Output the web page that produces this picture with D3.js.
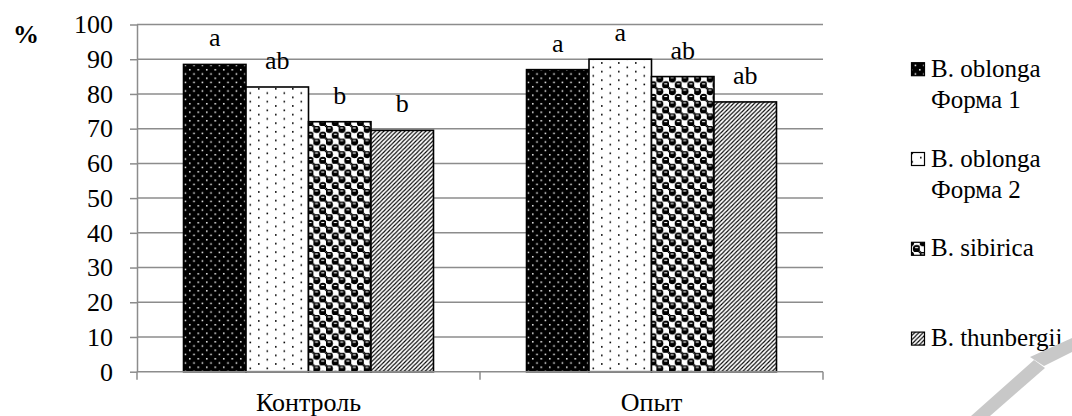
<!DOCTYPE html>
<html><head><meta charset="utf-8">
<script src="https://cdn.jsdelivr.net/npm/d3@7/dist/d3.min.js"></script>
<style>
html,body{margin:0;padding:0;background:#fff;}
svg{display:block;}
</style></head>
<body>
<svg id="chart" width="1072" height="416"></svg>
<script>
const categories = ["Контроль", "Опыт"];
const seriesNames = ["B. oblonga\nФорма 1", "B. oblonga\nФорма 2", "B. sibirica", "B. thunbergii"];
const valuesControl = [88.5, 82, 72, 69.5];
const valuesExperiment = [87, 90, 85, 77.7];
const lettersControl = ["a", "ab", "b", "b"];
const lettersExperiment = ["a", "a", "ab", "ab"];
const yTicks = [0, 10, 20, 30, 40, 50, 60, 70, 80, 90, 100];

const seriesValues = [valuesControl, valuesExperiment];
const seriesLetters = [lettersControl, lettersExperiment];

const FONT = "'Liberation Serif','Tinos','Noto Serif','DejaVu Serif','Times New Roman',Times,serif";
const svg = d3.select("#chart").style("font-family", FONT);
const FS = 26;
const gridColor = "#8c8c8c";
const L = 137, R = 823, T = 24.5, B = 371.7;

// patterns
const defs = svg.append("defs");
let p = defs.append("pattern").attr("id","p0").attr("patternUnits","userSpaceOnUse").attr("width",8.5).attr("height",8.5);
p.append("rect").attr("width",8.5).attr("height",8.5).attr("fill","#000");
p.append("rect").attr("x",1).attr("y",1).attr("width",1.5).attr("height",1.5).attr("fill","#fff");
p.append("rect").attr("x",5.25).attr("y",5.25).attr("width",1.5).attr("height",1.5).attr("fill","#fff");
p = defs.append("pattern").attr("id","p1").attr("patternUnits","userSpaceOnUse").attr("width",17).attr("height",8.6);
p.append("rect").attr("width",17).attr("height",8.6).attr("fill","#fff");
p.append("rect").attr("x",2).attr("y",2).attr("width",1.6).attr("height",1.6).attr("fill","#000");
p.append("rect").attr("x",10.5).attr("y",6.3).attr("width",1.6).attr("height",1.6).attr("fill","#000");
p = defs.append("pattern").attr("id","p2").attr("patternUnits","userSpaceOnUse").attr("width",12.6).attr("height",12.6);
p.append("rect").attr("width",12.6).attr("height",12.6).attr("fill","#fff");
p.append("circle").attr("cx",3.15).attr("cy",3.15).attr("r",3.8).attr("fill","#000");
p.append("circle").attr("cx",9.45).attr("cy",9.45).attr("r",3.8).attr("fill","#000");
p.append("circle").attr("cx",12.6).attr("cy",0).attr("r",1.3).attr("fill","#000");
p.append("circle").attr("cx",0).attr("cy",12.6).attr("r",1.3).attr("fill","#000");
p.append("rect").attr("x",1.6).attr("y",1.4).attr("width",3).attr("height",1.1).attr("fill","#fff");
p.append("rect").attr("x",7.9).attr("y",7.7).attr("width",3).attr("height",1.1).attr("fill","#fff");
p = defs.append("pattern").attr("id","p3").attr("patternUnits","userSpaceOnUse").attr("width",4.2).attr("height",4.2);
p.append("rect").attr("width",4.2).attr("height",4.2).attr("fill","#fff");
p.append("path").attr("d","M-1,1 L1,-1 M0,4.2 L4.2,0 M3.2,5.2 L5.2,3.2").attr("stroke","#000").attr("stroke-width",1.1);

// scales
const x0 = d3.scaleBand().domain(categories).range([L, R]).padding(0);
const inner = (R - L) / 2;
const x1 = d3.scaleBand().domain(d3.range(seriesNames.length)).range([inner*0.1356, inner*(1-0.1356)]).padding(0);
const y = d3.scaleLinear().domain([0, 100]).range([B, T]);

// gridlines
svg.append("g").selectAll("line").data(yTicks.filter(d=>d>0)).join("line")
  .attr("x1", L).attr("x2", R).attr("y1", d=>y(d)).attr("y2", d=>y(d))
  .attr("stroke", gridColor).attr("stroke-width", 1.5);

// y axis
const yAxis = svg.append("g").attr("transform", `translate(${L},0)`)
  .call(d3.axisLeft(y).tickValues(yTicks).tickSize(7).tickPadding(17).tickSizeOuter(0));
yAxis.attr("font-family", null).style("font-family", FONT);
yAxis.select(".domain").attr("stroke", gridColor).attr("stroke-width", 1.5);
yAxis.selectAll(".tick line").attr("stroke", gridColor).attr("stroke-width", 1.5);
yAxis.selectAll(".tick text").attr("font-size", FS).style("font-family", FONT).attr("fill","#000");

// bars
const groups = svg.append("g").selectAll("g").data(categories).join("g")
  .attr("transform", d => `translate(${x0(d)},0)`);
groups.each(function(cat, ci){
  const g = d3.select(this);
  const vals = seriesValues[ci];
  g.selectAll("rect").data(vals).join("rect")
    .attr("x", (d,i)=>x1(i)).attr("width", x1.bandwidth())
    .attr("y", d=>y(d)).attr("height", d=>y(0)-y(d))
    .attr("fill", (d,i)=>`url(#p${i})`).attr("stroke","#000").attr("stroke-width",1.6);
  g.selectAll("text").data(vals).join("text")
    .attr("x", (d,i)=>x1(i)+x1.bandwidth()/2).attr("y", d=>y(d)-18)
    .attr("text-anchor","middle").attr("font-size", FS).style("font-family", FONT)
    .text((d,i)=>seriesLetters[ci][i]);
});

// x axis
const xAxisG = svg.append("g");
xAxisG.append("line").attr("x1", L).attr("x2", R).attr("y1", B).attr("y2", B)
  .attr("stroke", gridColor).attr("stroke-width", 1.5);
const bounds = [L].concat(categories.map(c => x0(c) + x0.bandwidth()));
xAxisG.selectAll(".xt").data(bounds).join("line").attr("class","xt")
  .attr("x1", d=>d).attr("x2", d=>d).attr("y1", B).attr("y2", B+8)
  .attr("stroke", gridColor).attr("stroke-width", 1.5);
xAxisG.selectAll("text").data(categories).join("text")
  .attr("x", d=>x0(d)+x0.bandwidth()/2).attr("y", 411)
  .attr("text-anchor","middle").attr("font-size", FS).style("font-family", FONT).text(d=>d);

// y label
svg.append("text").attr("x", 13).attr("y", 43).attr("font-size", FS).attr("font-weight","bold")
  .style("font-family", FONT).text("%");

// legend
const legend = svg.append("g");
seriesNames.forEach((name, i) => {
  const by = 76.7 + i * 89.8;
  legend.append("rect").attr("x", 911.5).attr("y", by-14).attr("width", 13).attr("height", 13)
    .attr("fill", `url(#p${i})`).attr("stroke","#000").attr("stroke-width",1.2);
  const t = legend.append("text").attr("x", 931).attr("y", by).attr("font-size", 25).style("font-family", FONT);
  name.split("\n").forEach((line, li) => {
    t.append("tspan").attr("x", 931).attr("dy", li === 0 ? 0 : 31).text(line);
  });
});

// watermark decoration (light gray)
svg.append("path").attr("d","M971,416 L1034,360 L1045,368 L990,416 Z").attr("fill","#c8c8c8");
svg.append("path").attr("d","M1030,357 L1072,338 L1072,352 L1044,366 Z").attr("fill","#c8c8c8");
</script>
</body></html>
